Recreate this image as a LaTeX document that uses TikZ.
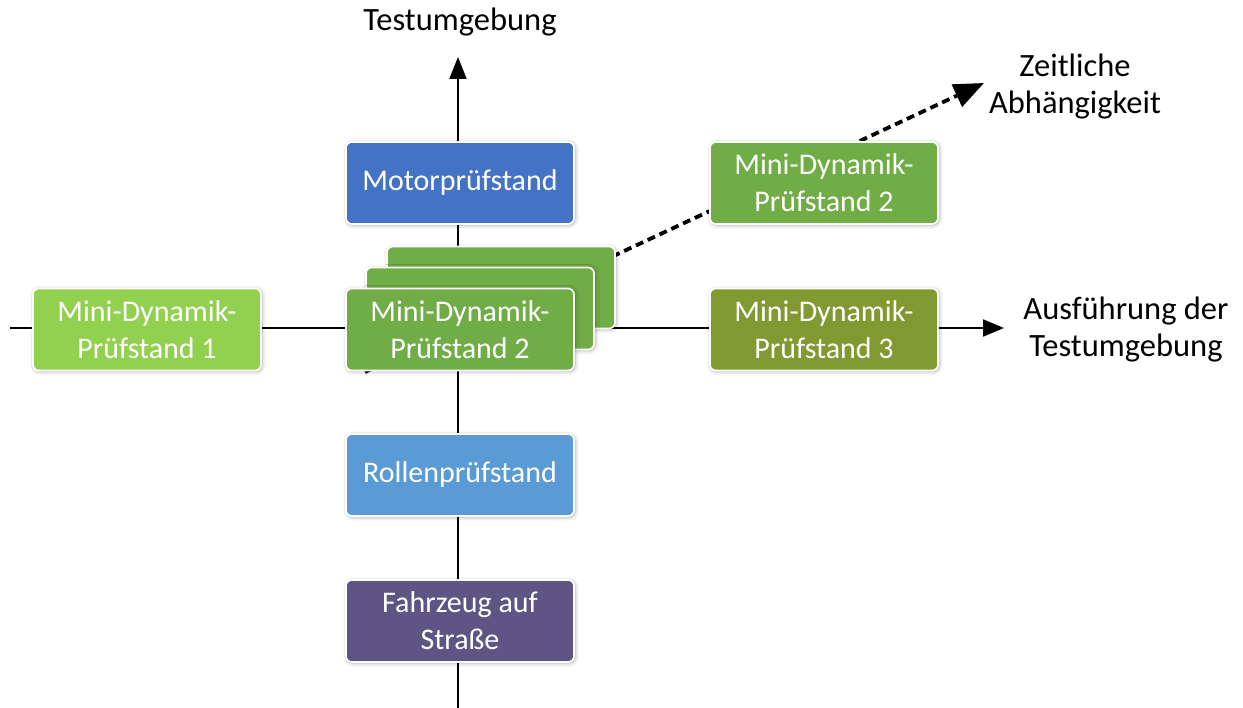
\documentclass[tikz,border=0pt]{standalone}
\usepackage{fontspec}
\setmainfont{Carlito}
\usetikzlibrary{arrows.meta,shadows.blur}
\definecolor{cBlue}{HTML}{4472C4}
\definecolor{cLight}{HTML}{92D050}
\definecolor{cGreen}{HTML}{70AD47}
\definecolor{cOlive}{HTML}{7F9A30}
\definecolor{cSky}{HTML}{5B9BD5}
\definecolor{cPurple}{HTML}{5F5585}
\tikzset{
  box/.style={draw=white, line width=1.6pt, rounded corners=6pt, minimum width=228pt, minimum height=82pt,
    align=center, text=white, font=\fontsize{30}{37}\selectfont, inner sep=0pt,
    blur shadow={shadow xshift=1pt, shadow yshift=-1pt, shadow blur radius=4pt, shadow opacity=35}},
  axis/.style={line width=2pt, black},
  lbl/.style={align=center, font=\fontsize{32.5}{37}\selectfont, inner sep=0pt},
  dsh/.style={line width=3.8pt, dash pattern=on 8pt off 5pt, -{Triangle[length=30pt,width=24pt]}}
}
\begin{document}
\begin{tikzpicture}[x=1pt,y=-1pt]
\useasboundingbox (0,0) rectangle (1243,708);
\coordinate (vbot) at (458,708);
\coordinate (vtop) at (458,57);
\coordinate (hl) at (10,328);
\coordinate (hr) at (1004,328);
\coordinate (ds) at (365,372);
\coordinate (de) at (984,83);
\draw[axis,-{Triangle[length=22pt,width=17pt]}] (vbot) -- (vtop);
\draw[axis,-{Triangle[length=21pt,width=17pt]}] (hl) -- (hr);
\draw[dsh] (ds) -- (de);
\node[lbl] (ttop) at (460,22) {Testumgebung};
\node[lbl] (tright) at (1126,330) {Ausführung der\\Testumgebung};
\node[lbl] (tzeit) at (1075,87) {Zeitliche\\Abhängigkeit};
\node[box, fill=cBlue] (motor) at (460,183) {Motorprüfstand};
\node[box, fill=cLight] (mdp1) at (147,329.5) {Mini-Dynamik-\\Prüfstand 1};
\node[box, fill=cGreen] (back2) at (501,287.5) {};
\node[box, fill=cGreen] (back1) at (480,308.5) {};
\node[box, fill=cGreen] (mdp2) at (460,329.5) {Mini-Dynamik-\\Prüfstand 2};
\node[box, fill=cGreen] (mdp2b) at (824,183) {Mini-Dynamik-\\Prüfstand 2};
\node[box, fill=cOlive] (mdp3) at (824,329.5) {Mini-Dynamik-\\Prüfstand 3};
\node[box, fill=cSky] (rollen) at (460,475) {Rollenprüfstand};
\node[box, fill=cPurple] (fahr) at (460,621) {Fahrzeug auf\\Straße};
\end{tikzpicture}
\end{document}
